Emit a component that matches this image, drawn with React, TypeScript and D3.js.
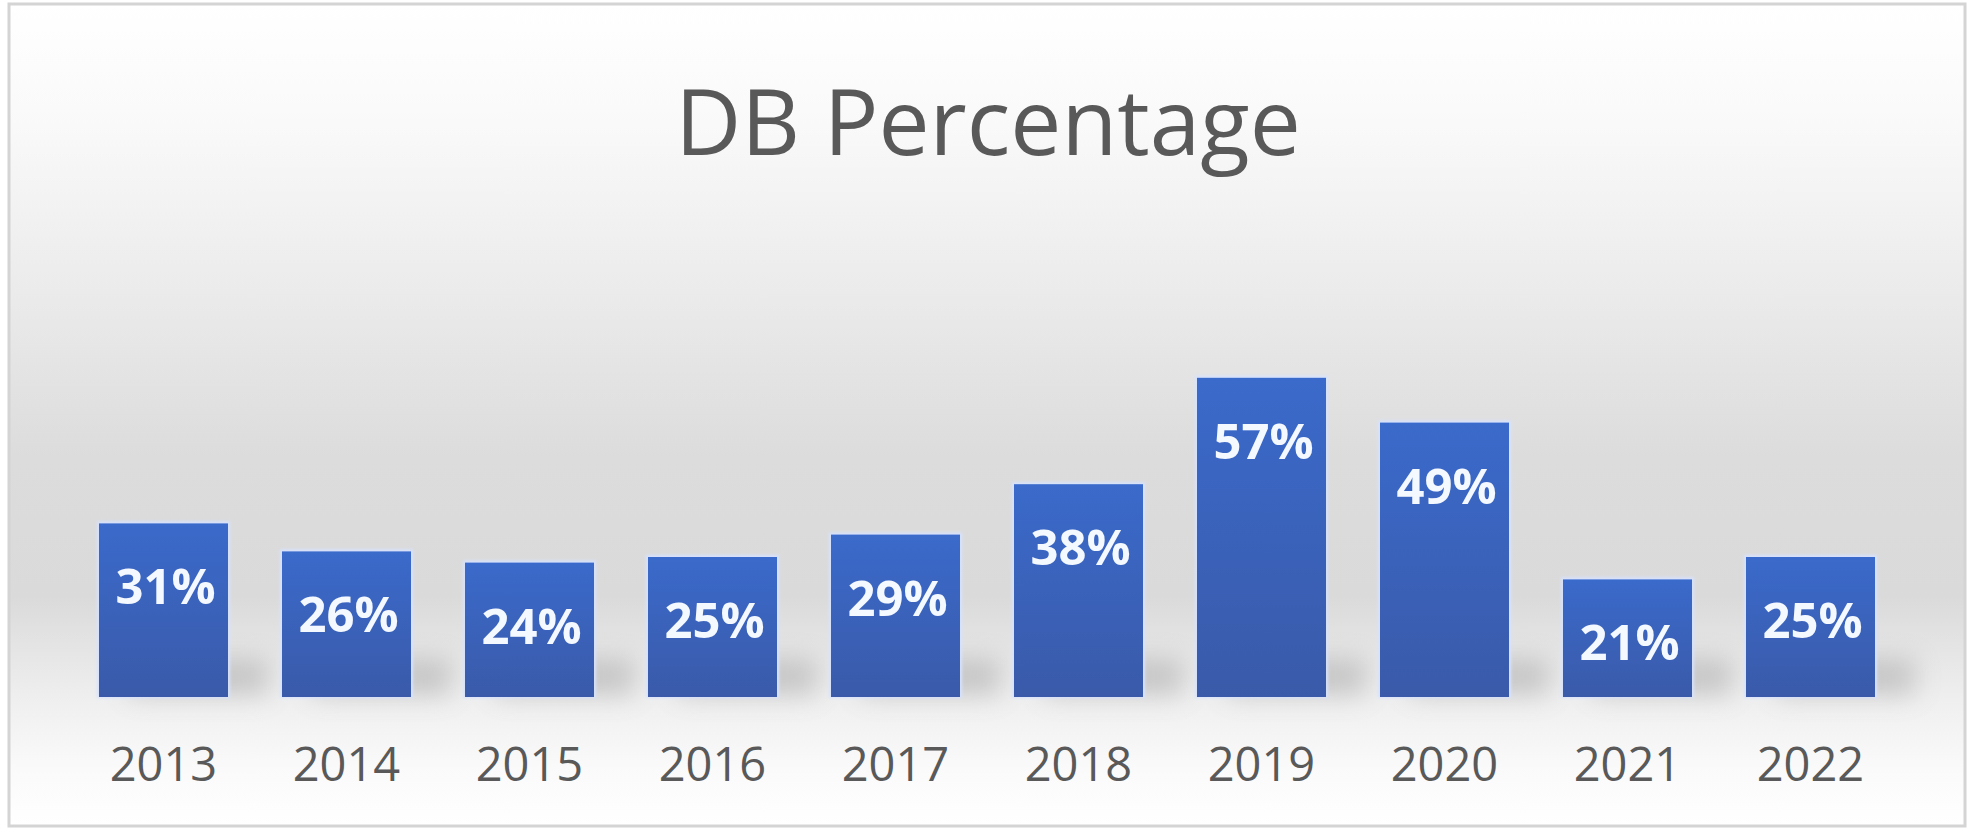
import * as d3 from 'd3'

const years = ['2013', '2014', '2015', '2016', '2017', '2018', '2019', '2020', '2021', '2022']
const dbPercent = [0.31, 0.26, 0.24, 0.25, 0.29, 0.38, 0.57, 0.49, 0.21, 0.25]
const title = 'DB Percentage'

const width = 1974
const height = 829
const baseY = 697

export default function App() {
  const x = d3
    .scaleBand<string>()
    .domain(years)
    .range([72, 1902])
    .paddingInner(0.295)
    .paddingOuter(0.1475)

  const y = d3.scaleLinear().domain([0, 0.6]).range([baseY, baseY - 336])
  const fmt = d3.format('.0%')

  return (
    <svg
      width={width}
      height={height}
      style={{ position: 'fixed', left: 0, top: 0 }}
      fontFamily="'Open Sans', 'Noto Sans', sans-serif"
    >
      <defs>
        <linearGradient id="bg" x1="0" y1="0" x2="0" y2="1">
          <stop offset="0" stopColor="#ffffff" />
          <stop offset="0.15" stopColor="#f9f9f9" />
          <stop offset="0.35" stopColor="#ebebeb" />
          <stop offset="0.55" stopColor="#dcdcdc" />
          <stop offset="0.72" stopColor="#dadada" />
          <stop offset="0.84" stopColor="#eeeeee" />
          <stop offset="0.93" stopColor="#fafafa" />
          <stop offset="1" stopColor="#ffffff" />
        </linearGradient>
        <linearGradient id="bar" x1="0" y1="0" x2="0" y2="1">
          <stop offset="0" stopColor="#3a6acb" />
          <stop offset="1" stopColor="#3a5aa9" />
        </linearGradient>
        <filter id="blur" x="-50%" y="-100%" width="200%" height="300%">
          <feGaussianBlur stdDeviation="13" />
        </filter>
        <filter id="glow" x="-20%" y="-20%" width="140%" height="140%">
          <feGaussianBlur stdDeviation="1.5" />
        </filter>
      </defs>

      <rect x={0} y={0} width={width} height={height} fill="#ffffff" />
      <rect x={9} y={4} width={1956} height={822} fill="url(#bg)" stroke="#d4d4d4" strokeWidth={3} />

      <text x={988} y={155} textAnchor="middle" fontSize={91} fill="#595959">
        {title}
      </text>

      {/* soft shadows at bar base */}
      {years.map((yr) => (
        <rect
          key={'sh' + yr}
          x={(x(yr) as number) + 30}
          y={baseY - 38}
          width={x.bandwidth() + 10}
          height={36}
          fill="#8f8f8f"
          opacity={0.4}
          filter="url(#blur)"
        />
      ))}

      {dbPercent.map((v, i) => (
        <g key={years[i]}>
          <rect
            x={(x(years[i]) as number) - 2}
            y={y(v) - 2}
            width={x.bandwidth() + 4}
            height={baseY - y(v) + 3}
            fill="#d6e2ff"
            filter="url(#glow)"
          />
          <rect
            x={x(years[i])}
            y={y(v)}
            width={x.bandwidth()}
            height={baseY - y(v)}
            fill="url(#bar)"
          />
          <text
            x={(x(years[i]) as number) + x.bandwidth() / 2 + 2}
            y={y(v) + 81}
            textAnchor="middle"
            fontSize={49}
            fontWeight="bold"
            fill="#f4f8ff"
          >
            {fmt(v)}
          </text>
        </g>
      ))}

      {years.map((yr) => (
        <text
          key={'lbl' + yr}
          x={(x(yr) as number) + x.bandwidth() / 2}
          y={781}
          textAnchor="middle"
          fontSize={47}
          fill="#595959"
        >
          {yr}
        </text>
      ))}
    </svg>
  )
}
